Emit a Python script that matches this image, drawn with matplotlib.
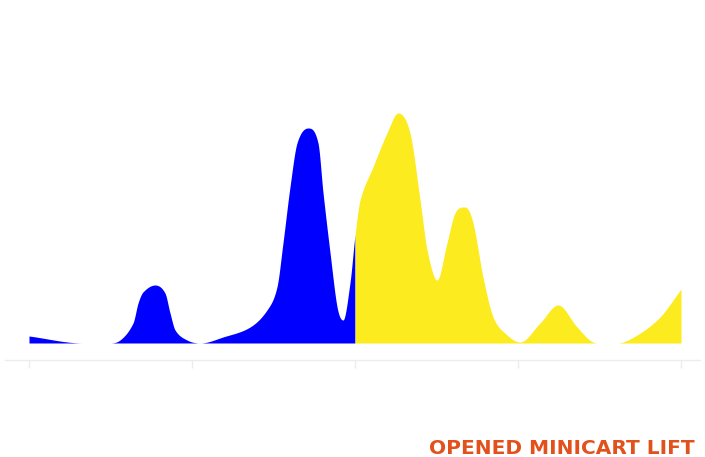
import numpy as np
import matplotlib
matplotlib.use("Agg")
import matplotlib.pyplot as plt

# x positions in tick units (ticks at 0..4), values as area heights
xs = [0.000, 0.331, 0.479, 0.558, 0.638, 0.669, 0.699, 0.773, 0.834, 0.865,
      0.896, 0.969, 1.049, 1.190, 1.356, 1.460, 1.521, 1.558, 1.601, 1.644,
      1.712, 1.773, 1.804, 1.847, 1.890, 1.926, 1.969, 2.000, 2.031, 2.110,
      2.196, 2.264, 2.337, 2.399, 2.442, 2.503, 2.564, 2.613, 2.675, 2.724,
      2.785, 2.847, 2.933, 3.012, 3.135, 3.245, 3.362, 3.460, 3.607, 3.730,
      3.871, 4.000]
ys = [7, 0, 0, 3, 20, 40, 51, 58, 50, 30,
      13, 3, 0, 6, 16, 33, 56, 100, 156, 200,
      215, 200, 150, 90, 36, 23, 60, 108, 143, 176,
      210, 230, 210, 143, 93, 63, 100, 130, 136, 120,
      66, 26, 8, 1, 20, 38, 16, 1, 0, 8,
      26, 54]
split_x = 2.0
title = "OPENED MINICART LIFT"
tick_pos = [0, 1, 2, 3, 4]


def smooth_curve(x, y, xq):
    """Cubic Hermite with Catmull-Rom tangents, flat at local extrema."""
    x = np.asarray(x, float); y = np.asarray(y, float)
    n = len(x); h = np.diff(x); d = np.diff(y) / h
    m = np.zeros(n)
    for k in range(1, n - 1):
        if d[k - 1] * d[k] <= 0:
            m[k] = 0
        else:
            m[k] = (y[k + 1] - y[k - 1]) / (x[k + 1] - x[k - 1])
    m[0] = d[0]; m[-1] = d[-1]
    idx = np.clip(np.searchsorted(x, xq) - 1, 0, n - 2)
    t = (xq - x[idx]) / h[idx]
    h00 = 2 * t**3 - 3 * t**2 + 1; h10 = t**3 - 2 * t**2 + t
    h01 = -2 * t**3 + 3 * t**2; h11 = t**3 - t**2
    return h00 * y[idx] + h10 * h[idx] * m[idx] + h01 * y[idx + 1] + h11 * h[idx] * m[idx + 1]


xq = np.unique(np.concatenate([np.linspace(xs[0], xs[-1], 3000), [split_x]]))
yq = np.maximum(smooth_curve(xs, ys, xq), 0)

W, H = 705, 457
fig = plt.figure(figsize=(W / 100, H / 100), dpi=100)
ax = fig.add_axes([5 / W, (H - 360) / H, 695 / W, 340 / H])

left = xq <= split_x
right = xq >= split_x
ax.fill_between(xq[left], 0, yq[left], color="#0000FF", linewidth=0)
ax.fill_between(xq[right], 0, yq[right], color="#FCEB1F", linewidth=0)

ax.set_xlim((5 - 29) / 163, (700 - 29) / 163)
ax.set_ylim(-17, 323)
for s in ["top", "left", "right"]:
    ax.spines[s].set_visible(False)
ax.spines["bottom"].set_color("#ececec")
ax.spines["bottom"].set_linewidth(1)
ax.set_xticks(tick_pos)
ax.set_xticklabels([])
ax.set_yticks([])
ax.tick_params(axis="x", direction="out", length=6, width=1, color="#ececec")

fig.text(695 / W, 1 - 449 / H, title, ha="right", va="center",
         fontsize=14.5, fontweight="bold", color="#E2501C", family="DejaVu Sans")

fig.savefig("out.png", dpi=100)
